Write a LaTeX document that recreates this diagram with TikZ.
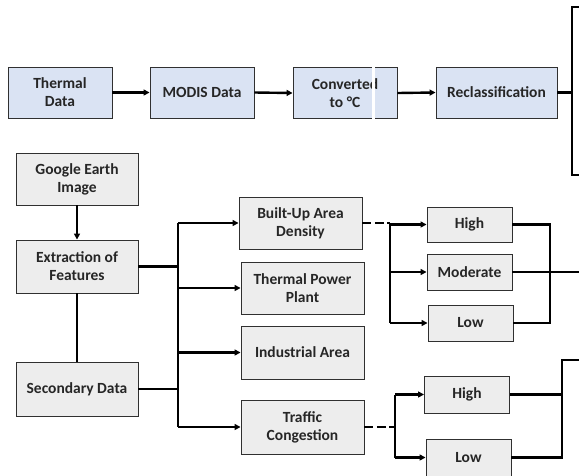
\documentclass[tikz,border=0pt]{standalone}
\usepackage{fontspec}
\setmainfont{Carlito}
\usetikzlibrary{arrows.meta}
\definecolor{boxblue}{HTML}{DAE3F3}
\definecolor{boxgray}{HTML}{EDEDED}
\definecolor{edge}{HTML}{303030}
\begin{document}
\begin{tikzpicture}[x=1pt,y=-1pt,
  base/.style={draw=edge,line width=0.9pt,align=center,inner sep=0pt,
    font=\fontsize{15.5}{18}\selectfont\bfseries,text=black!85},
  bluebox/.style={base,fill=boxblue,minimum width=104pt,minimum height=51pt},
  graybox/.style={base,fill=boxgray,minimum width=123pt,minimum height=52pt},
  smallbox/.style={base,fill=boxgray,minimum width=85pt,minimum height=36pt},
  conn/.style={line width=2.4pt,-{Triangle[length=6pt,width=6pt]}},
  link/.style={line width=2.4pt},
  dashlink/.style={line width=2.6pt,dash pattern=on 9pt off 3.5pt}]
\useasboundingbox (0,0) rectangle (579,475);
\clip (0,0) rectangle (579,475);
% top row
\node[bluebox] (thermal) at (60,92.5) {Thermal\\Data};
\node[bluebox] (modis) at (202,92.5) {MODIS Data};
\node[bluebox] (conv) at (345,93) {Converted\\to °C};
\node[bluebox,minimum width=121pt] (recl) at (496.5,92.5) {Reclassification};
\fill[white] (372,65) rectangle (374.5,121);
\draw[conn] (thermal.east) -- (modis.west);
\draw[conn] (modis.east) -- (conv.west);
\draw[conn] (conv.east) -- (recl.west);
\coordinate (rt) at (580,7);
\coordinate (rb) at (580,175);
\coordinate (rj) at (572,92.5);
\draw[line width=2.2pt] (rt) -- (572,7) -- (572,175) -- (rb);
\draw[link] (recl.east) -- (rj);
% left column
\node[graybox,minimum width=122pt] (google) at (77,179) {Google Earth\\Image};
\node[graybox,minimum width=122pt,minimum height=53pt] (extract) at (77,266.5) {Extraction of\\Features};
\node[graybox,minimum width=122pt,minimum height=54pt] (second) at (77,389) {Secondary Data};
\draw[conn] (google.south) -- (extract.north);
\draw[link] (extract.south) -- (second.north);
% middle column
\node[graybox] (built) at (300.5,223) {Built-Up Area\\Density};
\node[graybox] (tpp) at (302.5,288) {Thermal Power\\Plant};
\node[graybox,minimum height=53pt] (ind) at (302.5,352.5) {Industrial Area};
\node[graybox,minimum height=54pt] (traffic) at (302.5,427) {Traffic\\Congestion};
\coordinate (ta) at (178,223);
\coordinate (tb) at (178,288);
\coordinate (tc) at (178,352.5);
\coordinate (td) at (178,427);
\draw[link] (extract.east) -- (extract.east -| ta);
\draw[link] (second.east) -- (second.east -| ta);
\draw[link] (ta) -- (td);
\draw[conn] (ta) -- (built.west);
\draw[conn] (tb) -- (tpp.west);
\draw[conn] (tc) -- (ind.west);
\draw[conn] (td) -- (traffic.west);
% built-up classes
\node[smallbox,minimum height=35pt] (high1) at (469.5,224.5) {High};
\node[smallbox] (mod) at (469.5,272) {Moderate};
\node[smallbox] (low1) at (470.5,323) {Low};
\coordinate (ba) at (390,224.5);
\coordinate (bb) at (390,272);
\coordinate (bc) at (390,323);
\draw[dashlink] (built.east) -- (built.east -| ba);
\draw[link] (built.east -| ba) -- (bc);
\draw[conn] (ba) -- (high1.west);
\draw[conn] (bb) -- (mod.west);
\draw[conn] (bc) -- (low1.west);
\coordinate (me) at (580,272);
\draw[link] (high1.east) -- (550,224.5) -- (550,323) -- (low1.east);
\draw[link] (mod.east) -- (me);
% traffic classes
\node[smallbox,minimum height=37pt] (high2) at (467,394.5) {High};
\node[smallbox,minimum height=37pt] (low2) at (468.5,457.5) {Low};
\coordinate (ca) at (395,394.5);
\coordinate (cb) at (395,457.5);
\draw[dashlink] (traffic.east) -- (traffic.east -| ca);
\draw[link] (ca) -- (cb);
\draw[conn] (ca) -- (high2.west);
\draw[conn] (cb) -- (low2.west);
\coordinate (ce) at (580,360);
\draw[link] (high2.east) -- (562,394.5);
\draw[link] (low2.east) -- (562,457.5) -- (562,360) -- (ce);
\end{tikzpicture}
\end{document}
